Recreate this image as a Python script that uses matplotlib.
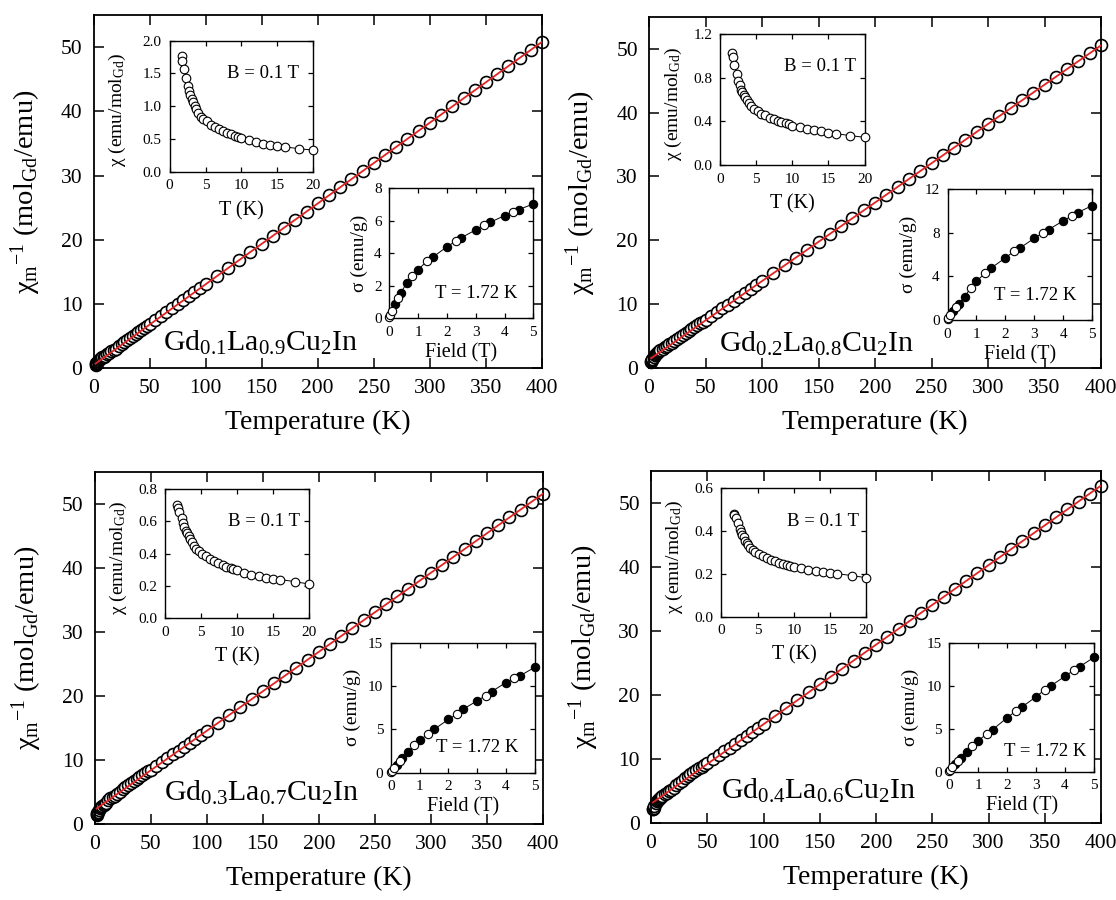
import matplotlib
matplotlib.use("Agg")
import matplotlib.pyplot as plt
import numpy as np
from matplotlib.ticker import FormatStrFormatter

plt.rcParams['font.family'] = ['Liberation Serif', 'DejaVu Serif']
plt.rcParams['mathtext.fontset'] = 'custom'
plt.rcParams['mathtext.rm'] = 'Liberation Serif'
plt.rcParams['mathtext.it'] = 'Liberation Serif:italic'
plt.rcParams['mathtext.bf'] = 'Liberation Serif:bold'

# ---------------- data ----------------
compositions = [r'Gd$_{0.1}$La$_{0.9}$Cu$_2$In', r'Gd$_{0.2}$La$_{0.8}$Cu$_2$In',
                r'Gd$_{0.3}$La$_{0.7}$Cu$_2$In', r'Gd$_{0.4}$La$_{0.6}$Cu$_2$In']

T_main = [1.8, 2.0, 2.5, 3.0, 4.0, 5.0, 6.0, 7.0, 8.0, 9.0, 10, 12, 14, 16, 18, 20,
          22.5, 25, 27.5, 30, 32.5, 35, 37.5, 40, 42.5, 45, 47.5, 50,
          55, 60, 65, 70, 75, 80, 85, 90, 95, 100,
          110, 120, 130, 140, 150, 160, 170, 180, 190, 200,
          210, 220, 230, 240, 250, 260, 270, 280, 290, 300,
          310, 320, 330, 340, 350, 360, 370, 380, 390, 400]

inv_chi_1 = [0.57, 0.64, 0.76, 0.88, 1.12, 1.27, 1.42, 1.55, 1.69, 1.82, 1.96, 2.20, 2.45, 2.63, 2.86, 3.03,
             3.43, 3.80, 4.11, 4.42, 4.74, 5.05, 5.37, 5.68, 6.00, 6.28, 6.58, 6.89,
             7.50, 8.10, 8.70, 9.32, 9.94, 10.56, 11.19, 11.82, 12.45, 13.08,
             14.34, 15.60, 16.85, 18.11, 19.37, 20.63, 21.89, 23.14, 24.40, 25.66,
             26.92, 28.18, 29.43, 30.69, 31.95, 33.21, 34.47, 35.72, 36.98, 38.24,
             39.50, 40.76, 42.01, 43.27, 44.53, 45.79, 47.05, 48.30, 49.56, 50.82]
inv_chi_2 = [1.01, 1.09, 1.28, 1.47, 1.79, 2.02, 2.20, 2.37, 2.50, 2.63, 2.78, 3.03, 3.25, 3.48, 3.71, 3.94,
             4.27, 4.58, 4.88, 5.19, 5.50, 5.81, 6.11, 6.42, 6.71, 6.99, 7.27, 7.57,
             8.17, 8.76, 9.35, 9.91, 10.53, 11.14, 11.76, 12.37, 12.99, 13.60,
             14.83, 16.06, 17.29, 18.52, 19.75, 20.98, 22.21, 23.44, 24.67, 25.90,
             27.13, 28.36, 29.59, 30.82, 32.05, 33.28, 34.51, 35.74, 36.97, 38.20,
             39.43, 40.66, 41.89, 43.12, 44.35, 45.58, 46.81, 48.04, 49.27, 50.50]
inv_chi_3 = [1.46, 1.52, 1.68, 1.89, 2.22, 2.46, 2.67, 2.86, 3.03, 3.20, 3.33, 3.70, 4.00, 4.17, 4.40, 4.72,
             5.05, 5.42, 5.78, 6.11, 6.43, 6.74, 7.05, 7.34, 7.63, 7.92, 8.21, 8.50,
             9.09, 9.69, 10.28, 10.87, 11.48, 12.08, 12.70, 13.32, 13.93, 14.55,
             15.79, 17.02, 18.26, 19.49, 20.73, 21.96, 23.20, 24.43, 25.67, 26.90,
             28.14, 29.37, 30.61, 31.84, 33.08, 34.31, 35.55, 36.78, 38.02, 39.25,
             40.49, 41.72, 42.96, 44.19, 45.43, 46.66, 47.90, 49.13, 50.37, 51.60]
inv_chi_4 = [2.11, 2.17, 2.40, 2.65, 3.10, 3.39, 3.63, 3.80, 3.97, 4.10, 4.27, 4.55, 4.76, 4.98, 5.20, 5.49,
             5.88, 6.27, 6.62, 6.96, 7.29, 7.61, 7.92, 8.22, 8.52, 8.81, 9.10, 9.40,
             9.99, 10.58, 11.18, 11.78, 12.37, 12.94, 13.57, 14.19, 14.81, 15.43,
             16.67, 17.92, 19.16, 20.40, 21.65, 22.89, 24.13, 25.37, 26.62, 27.86,
             29.10, 30.35, 31.59, 32.83, 34.08, 35.32, 36.56, 37.80, 39.05, 40.29,
             41.53, 42.78, 44.02, 45.26, 46.51, 47.75, 48.99, 50.23, 51.48, 52.72]

# Curie-Weiss linear fits (intercept, slope)
fit_intercepts = [0.5, 1.3, 2.2, 3.0]
fit_slopes = [0.1258, 0.1230, 0.1235, 0.1243]
fit_T_range = [1.8, 400]

T_chi = [1.7, 1.8, 2.0, 2.3, 2.55, 2.7, 2.9, 3.1, 3.3, 3.5, 3.7, 4.0, 4.35, 4.7, 5.2, 5.7,
         6.25, 6.85, 7.4, 8.0, 8.5, 9.1, 9.5, 10, 11, 12, 13, 14, 15, 16, 18, 20]
chi_1 = [1.76, 1.69, 1.57, 1.43, 1.31, 1.23, 1.17, 1.11, 1.06, 1.00, 0.95, 0.89, 0.84, 0.80, 0.77, 0.72,
         0.69, 0.65, 0.62, 0.59, 0.57, 0.55, 0.53, 0.51, 0.48, 0.46, 0.43, 0.41, 0.39, 0.38, 0.35, 0.33]
chi_2 = [1.025, 0.99, 0.92, 0.84, 0.77, 0.73, 0.69, 0.67, 0.64, 0.62, 0.60, 0.565, 0.54, 0.515, 0.493, 0.472,
         0.455, 0.435, 0.42, 0.405, 0.397, 0.385, 0.373, 0.36, 0.346, 0.33, 0.318, 0.31, 0.297, 0.288, 0.27, 0.254]
chi_3 = [0.70, 0.685, 0.66, 0.62, 0.59, 0.566, 0.54, 0.525, 0.51, 0.49, 0.475, 0.45, 0.43, 0.415, 0.40, 0.383,
         0.368, 0.353, 0.34, 0.329, 0.32, 0.31, 0.305, 0.298, 0.282, 0.27, 0.26, 0.251, 0.245, 0.24, 0.227, 0.212]
chi_4 = [0.48, 0.475, 0.462, 0.436, 0.412, 0.397, 0.384, 0.371, 0.356, 0.345, 0.335, 0.322, 0.312, 0.302, 0.291, 0.282,
         0.273, 0.265, 0.258, 0.251, 0.246, 0.24, 0.237, 0.234, 0.226, 0.22, 0.215, 0.21, 0.206, 0.201, 0.192, 0.182]

field_filled = [0.2, 0.4, 0.6, 1.0, 1.5, 2.0, 2.5, 3.0, 3.5, 4.0, 4.5, 5.0]
field_open = [0.0, 0.03, 0.1, 0.3, 0.8, 1.3, 2.3, 3.3, 4.3]
sig_filled_1 = [0.86, 1.58, 2.15, 3.00, 3.75, 4.40, 4.96, 5.44, 5.90, 6.32, 6.69, 7.04]
sig_open_1 = [0.06, 0.20, 0.47, 1.23, 2.63, 3.50, 4.74, 5.74, 6.54]
sig_filled_2 = [0.80, 1.50, 2.15, 3.55, 4.75, 5.70, 6.60, 7.50, 8.30, 9.10, 9.85, 10.50]
sig_open_2 = [0.05, 0.20, 0.45, 1.20, 2.95, 4.30, 6.30, 8.00, 9.55]
sig_filled_3 = [0.85, 1.65, 2.40, 3.77, 5.00, 6.15, 7.30, 8.30, 9.35, 10.40, 11.20, 12.15]
sig_open_3 = [0.10, 0.25, 0.50, 1.30, 3.20, 4.46, 6.77, 8.90, 10.90]
sig_filled_4 = [0.85, 1.65, 2.30, 3.60, 4.90, 6.28, 7.50, 8.72, 9.96, 11.10, 12.20, 13.30]
sig_open_4 = [0.05, 0.20, 0.50, 1.25, 3.00, 4.42, 7.05, 9.53, 11.80]

main_xticks = [0, 50, 100, 150, 200, 250, 300, 350, 400]
main_yticks = [0, 10, 20, 30, 40, 50]
chi_xticks = [0, 5, 10, 15, 20]
chi_yticks = [[0.0, 0.5, 1.0, 1.5, 2.0], [0.0, 0.4, 0.8, 1.2],
              [0.0, 0.2, 0.4, 0.6, 0.8], [0.0, 0.2, 0.4, 0.6]]
sig_xticks = [0, 1, 2, 3, 4, 5]
sig_yticks = [[0, 2, 4, 6, 8], [0, 4, 8, 12], [0, 5, 10, 15], [0, 5, 10, 15]]

inv_chis = [inv_chi_1, inv_chi_2, inv_chi_3, inv_chi_4]
chis = [chi_1, chi_2, chi_3, chi_4]
sig_f = [sig_filled_1, sig_filled_2, sig_filled_3, sig_filled_4]
sig_o = [sig_open_1, sig_open_2, sig_open_3, sig_open_4]

# ---------------- layout (pixel boxes: left, top, right, bottom) ----------------
W, H = 1116, 900
fig = plt.figure(figsize=(W / 100, H / 100), dpi=100)

def px_axes(box):
    l, t, r, b = box
    return fig.add_axes([l / W, 1 - b / H, (r - l) / W, (b - t) / H])

main_boxes = [(93.5, 15, 542, 368.3), (649, 16.7, 1101, 368),
              (94.6, 472, 543, 824), (651, 471, 1101, 823)]
chi_boxes = [(169.5, 40.7, 313.5, 171.7), (720, 34.3, 864.6, 165),
             (165, 489, 309, 618.3), (721.4, 488.3, 866.4, 616.7)]
sig_boxes = [(389.3, 188.3, 533.3, 318.3), (947.5, 189.3, 1092, 320),
             (391, 642.7, 534.6, 772.7), (949.3, 642.7, 1094, 771.7)]
comp_y = [2.8, 2.6, 3.7, 3.8]
B_pos = [(0.65, 0.75), (0.69, 0.75), (0.69, 0.75), (0.70, 0.74)]
T_pos = [(0.60, 0.19), (0.605, 0.19), (0.60, 0.19), (0.66, 0.155)]
chi_lab_x = [-0.29, -0.25, -0.25, -0.25]
sig_lab_x = [-0.15, -0.21, -0.21, -0.21]

red = '#e02424'

for i in range(4):
    ax = px_axes(main_boxes[i])
    ax.plot(T_main, inv_chis[i], 'o', ms=8.6, mfc='white', mec='black', mew=1.2,
            clip_on=False, zorder=2)
    tf = np.array(fit_T_range)
    ax.plot(tf, fit_intercepts[i] + fit_slopes[i] * tf, '-', color=red, lw=1.3, zorder=3)
    ax.set_xlim(0, 400)
    ax.set_ylim(0, 55)
    ax.set_xticks(main_xticks)
    ax.set_yticks(main_yticks)
    ax.tick_params(direction='in', top=True, right=True, length=7, width=1.1,
                   labelsize=15.5, pad=8)
    for s in ax.spines.values():
        s.set_linewidth(1.3)
    ax.set_xlabel('Temperature (K)', fontsize=20)
    ax.xaxis.set_label_coords(0.5, -0.118)
    ax.set_ylabel(r'χ$_\mathrm{m}$$^{\mathrm{-1}}$ (mol$_\mathrm{Gd}$/emu)', fontsize=20.5)
    ax.yaxis.set_label_coords(-0.112, 0.5)
    ax.text(62, comp_y[i], compositions[i], fontsize=21.5, ha='left', va='baseline')

    # chi inset
    ai = px_axes(chi_boxes[i])
    ai.plot(T_chi, chis[i], '-', color='black', lw=0.7, zorder=2)
    ai.plot(T_chi, chis[i], 'o', ms=6.2, mfc='white', mec='black', mew=0.8,
            clip_on=False, zorder=3)
    ai.set_xlim(0, 20)
    ai.set_ylim(0, chi_yticks[i][-1])
    ai.set_xticks(chi_xticks)
    ai.set_yticks(chi_yticks[i])
    ai.yaxis.set_major_formatter(FormatStrFormatter('%.1f'))
    ai.tick_params(direction='in', top=True, right=True, length=3.5, width=0.9,
                   labelsize=11, pad=5.5)
    for s in ai.spines.values():
        s.set_linewidth(1.0)
    ai.set_xlabel('T (K)', fontsize=14.5)
    ai.xaxis.set_label_coords(0.5, -0.225)
    ai.set_ylabel(r'χ (emu/mol$_\mathrm{Gd}$)', fontsize=14)
    ai.yaxis.set_label_coords(chi_lab_x[i], 0.47)
    ai.text(B_pos[i][0], B_pos[i][1], 'B = 0.1 T', transform=ai.transAxes,
            fontsize=13.5, ha='center', va='center')

    # sigma inset
    asg = px_axes(sig_boxes[i])
    allf = np.array(field_open + field_filled)
    alls = np.array(sig_o[i] + sig_f[i])
    order = np.argsort(allf)
    asg.plot(allf[order], alls[order], '-', color='black', lw=0.7, zorder=2)
    asg.plot(field_filled, sig_f[i], 'o', ms=6, mfc='black', mec='black', mew=0.8,
             clip_on=False, zorder=3)
    asg.plot(field_open, sig_o[i], 'o', ms=6, mfc='white', mec='black', mew=0.8,
             clip_on=False, zorder=3)
    asg.set_xlim(0, 5)
    asg.set_ylim(0, sig_yticks[i][-1])
    asg.set_xticks(sig_xticks)
    asg.set_yticks(sig_yticks[i])
    asg.tick_params(direction='in', top=True, right=True, length=3.5, width=0.9,
                    labelsize=11, pad=5.5)
    for s in asg.spines.values():
        s.set_linewidth(1.0)
    asg.set_xlabel('Field (T)', fontsize=14.5)
    asg.xaxis.set_label_coords(0.5, -0.19)
    asg.set_ylabel('σ (emu/g)', fontsize=14)
    asg.yaxis.set_label_coords(sig_lab_x[i], 0.5)
    asg.text(T_pos[i][0], T_pos[i][1], 'T = 1.72 K', transform=asg.transAxes,
             fontsize=13.5, ha='center', va='center')

fig.savefig('out.png', dpi=100)
